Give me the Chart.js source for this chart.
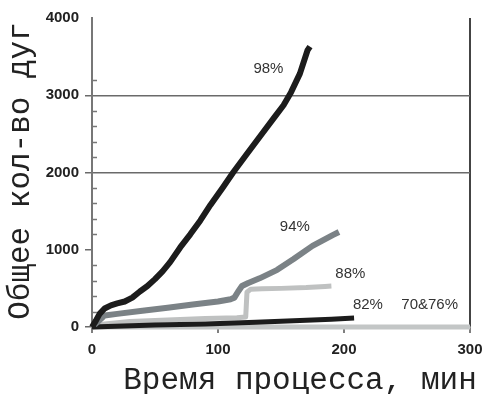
<!DOCTYPE html>
<html>
<head>
<meta charset="utf-8">
<script src="https://cdn.jsdelivr.net/npm/chart.js@4/dist/chart.umd.min.js"></script>
<style>
  html, body { margin: 0; padding: 0; background: #fff; }
  #wrap { width: 486px; height: 394px; }
</style>
</head>
<body>
<div id="wrap"><canvas id="c" width="486" height="394"></canvas></div>
<script>
// Cumulative arc count versus process time for each concentration
const t98 = [0, 3, 6, 10, 15, 20, 26, 32, 38, 44, 50, 56, 62, 70, 78, 86, 94, 104, 112, 122, 133, 145, 152, 158, 165, 171, 173];
const v98 = [0, 80, 170, 240, 280, 305, 330, 380, 460, 530, 620, 720, 840, 1030, 1200, 1380, 1580, 1810, 2000, 2220, 2460, 2720, 2870, 3040, 3280, 3580, 3630];

const t94 = [2, 8, 10, 20, 40, 60, 80, 100, 110, 113, 116, 119, 124, 133, 147, 160, 175, 191, 196];
const v94 = [30, 120, 150, 170, 210, 250, 290, 330, 360, 380, 460, 530, 570, 630, 740, 880, 1050, 1190, 1230];

const t88 = [0, 10, 30, 60, 90, 115, 122, 123, 126, 135, 150, 170, 185, 190];
const v88 = [0, 40, 70, 90, 110, 120, 130, 450, 490, 495, 500, 510, 525, 530];

const t82 = [0, 50, 90, 130, 160, 190, 208];
const v82 = [0, 25, 40, 60, 80, 100, 115];

const t7076 = [0, 100, 200, 300];
const v7076 = [0, 0, 0, 0];

const seriesNames = ['98%', '94%', '82%', '88%', '70&76%'];
const seriesColors = ['#1c1c1c', '#7b8286', '#1c1c1c', '#bfc1c1', '#c3c6c6'];
const seriesWidths = [6, 6, 5, 5, 5];

// Where each percentage caption sits, in data units (minutes, count)
const labelX = [140, 161, 219, 205, 268];
const labelY = [3340, 1290, 285, 690, 285];

const xTicks = [0, 100, 200, 300];
const yTicks = [0, 1000, 2000, 3000, 4000];
const yGridShown = [2000, 3000];

const xTitle = 'Время процесса, мин';
const yTitle = 'Общее кол-во дуг';

function pts(ts, vs) { return ts.map((t, i) => ({ x: t, y: vs[i] })); }
const seriesData = [pts(t98, v98), pts(t94, v94), pts(t82, v82), pts(t88, v88), pts(t7076, v7076)];

const datasets = seriesNames.map((name, i) => ({
  label: name,
  data: seriesData[i],
  borderColor: seriesColors[i],
  backgroundColor: seriesColors[i],
  borderWidth: seriesWidths[i],
  pointRadius: 0,
  tension: 0,
  borderJoinStyle: 'round',
  borderCapStyle: 'butt',
  clip: false
}));

// Inward minor ticks, percentage captions and axis titles
const decor = {
  id: 'decor',
  afterDraw(chart) {
    const ctx = chart.ctx;
    const xs = chart.scales.x, ys = chart.scales.y;
    const area = chart.chartArea;
    ctx.save();
    ctx.strokeStyle = '#777';
    ctx.lineWidth = 1.5;
    for (let v = 200; v <= 3200; v += 200) {
      if (v % 1000 === 0) continue;
      const py = Math.round(ys.getPixelForValue(v)) + 0.5;
      ctx.beginPath();
      ctx.moveTo(area.left, py);
      ctx.lineTo(area.left + 5, py);
      ctx.stroke();
    }
    ctx.fillStyle = '#333';
    ctx.font = '15px "Liberation Sans", Arial, sans-serif';
    ctx.textAlign = 'center';
    ctx.textBaseline = 'middle';
    seriesNames.forEach((name, i) => {
      ctx.fillText(name, xs.getPixelForValue(labelX[i]), ys.getPixelForValue(labelY[i]));
    });
    ctx.fillStyle = '#222';
    ctx.font = '31px "Liberation Mono", "DejaVu Sans Mono", monospace';
    ctx.textAlign = 'center';
    ctx.textBaseline = 'alphabetic';
    ctx.fillText(xTitle, 300, 389);
    ctx.translate(29, 171);
    ctx.rotate(-Math.PI / 2);
    ctx.fillText(yTitle, 0, 0);
    ctx.restore();
  }
};

const plainNumber = v => String(v);

new Chart(document.getElementById('c'), {
  type: 'line',
  data: { datasets },
  options: {
    responsive: false,
    animation: false,
    events: [],
    layout: { padding: { left: 40, top: 18, right: 16, bottom: 40 } },
    plugins: { legend: { display: false }, tooltip: { enabled: false } },
    scales: {
      x: {
        type: 'linear',
        min: 0, max: 300,
        afterFit(s) { s.height = 27; s.paddingLeft = 0; s.paddingRight = 0; },
        afterBuildTicks(s) { s.ticks = xTicks.map(v => ({ value: v })); },
        ticks: {
          color: '#222',
          padding: 8,
          callback: plainNumber,
          font: { family: '"Liberation Sans", Arial, sans-serif', size: 15, weight: 'bold' }
        },
        grid: {
          drawOnChartArea: true,
          color: c => (c.tick && c.tick.value === 300) ? '#444' : 'rgba(0,0,0,0)',
          lineWidth: 2,
          tickColor: '#555',
          tickLength: 6,
          tickWidth: 1.5
        },
        border: { display: true, color: '#777', width: 1.5 }
      },
      y: {
        type: 'linear',
        min: 0, max: 4000,
        afterFit(s) { s.width = 52; s.paddingTop = 0; s.paddingBottom = 0; },
        afterBuildTicks(s) { s.ticks = yTicks.map(v => ({ value: v })); },
        ticks: {
          color: '#222',
          padding: 6,
          callback: plainNumber,
          font: { family: '"Liberation Sans", Arial, sans-serif', size: 15, weight: 'bold' }
        },
        grid: {
          drawOnChartArea: true,
          color: c => (c.tick && yGridShown.includes(c.tick.value)) ? '#6a6a6a' : 'rgba(0,0,0,0)',
          lineWidth: 1.5,
          tickColor: c => (c.tick && c.tick.value === 4000) ? 'rgba(0,0,0,0)' : '#6a6a6a',
          tickLength: 7,
          tickWidth: 1.5
        },
        border: { display: true, color: '#777', width: 2 }
      }
    }
  },
  plugins: [decor]
});
</script>
</body>
</html>
